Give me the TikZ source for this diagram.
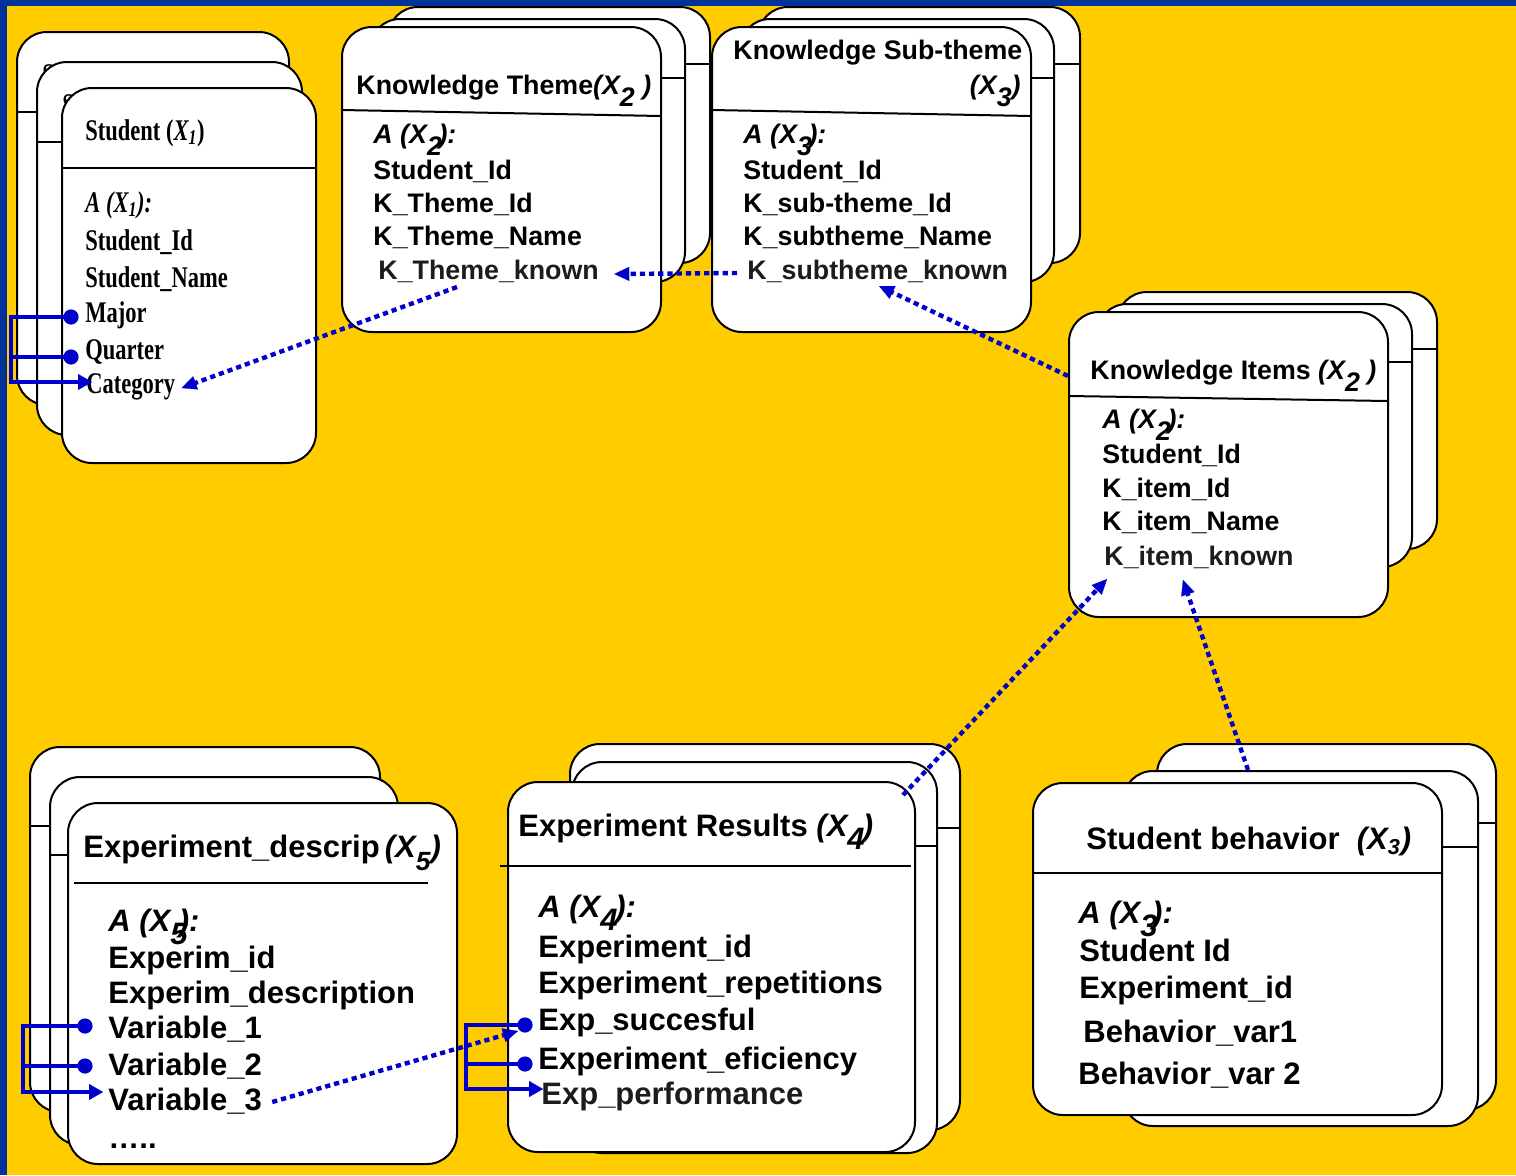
\documentclass[tikz,border=0pt]{standalone}
\usepackage{fontspec}
\usepackage{graphicx}
\setmainfont{Liberation Sans}
\newfontfamily\tnr{Liberation Serif}
\usetikzlibrary{arrows.meta,calc}

\definecolor{bgyellow}{HTML}{FFCC00}
\definecolor{frameblue}{HTML}{003399}
\definecolor{linkblue}{HTML}{0000CC}
\definecolor{softblack}{HTML}{1C1C1C}

% lowered index digit, and a lowered digit tucked under the closing bracket
\newcommand\lowd[1]{\raisebox{-0.45em}{#1}}
\newcommand\tuck[2]{\rlap{\raisebox{-0.45em}{#2}}\kern#1}
% condensed serif used in the Student entity
\newcommand\cond[1]{\scalebox{.75}[1]{#1}}
% one card of an entity stack: left, top, right, bottom, divider y at left, divider y at right
\newcommand\cardbox[6]{%
  \path[card] (#1,#2) rectangle (#3,#4);
  \draw[divider] (#1,#5) -- (#3,#6);}

\tikzset{
  card/.style={draw=black, fill=white, line width=1pt, rounded corners=15pt},
  divider/.style={draw=black, line width=1pt},
  kt/.style={anchor=base west, inner sep=0pt, font=\fontsize{13.4}{16}\selectfont\bfseries},
  et/.style={anchor=base west, inner sep=0pt, font=\fontsize{15.5}{18}\selectfont\bfseries},
  st/.style={anchor=base west, inner sep=0pt, font=\tnr\fontsize{15}{18}\selectfont\bfseries},
  link/.style={draw=linkblue, line width=2.2pt, dash pattern=on 2.6pt off 2pt,
    -{Triangle[length=7.5pt,width=7pt,line width=0.1pt]}},
  bracket/.style={draw=linkblue, line width=2.4pt},
  bracketarrow/.style={bracket, -{Triangle[length=7pt,width=8pt,line width=0.1pt]}},
}

\begin{document}
\begin{tikzpicture}[x=0.5pt,y=-0.5pt]
\useasboundingbox (0,0) rectangle (1516,1175);
\fill[bgyellow] (0,0) rectangle (1516,1175);
\fill[frameblue] (0,0) rectangle (1516,6);
\fill[frameblue] (0,0) rectangle (7,1175);

% ---------------- Student (X1)
\cardbox{17}{32}{289}{405}{112}{112}
\node[st] (s-ghost1) at (42,84) {\cond{Student (\textit{X\textsubscript{1}})}};
\cardbox{37}{62}{302}{435}{142}{142}
\node[st] (s-ghost2) at (62,114) {\cond{Student (\textit{X\textsubscript{1}})}};
\cardbox{62}{88}{316}{463}{168}{168}
\node[st] (s-title) at (85,140) {\cond{Student (\textit{X\textsubscript{1}})}};
\node[st] (s-attr) at (85,212) {\cond{\textit{A (X\textsubscript{1}):}}};
\node[st] (s-id) at (85,250) {\cond{Student\_Id}};
\node[st] (s-name) at (85,287) {\cond{Student\_Name}};
\node[st] (s-major) at (85,322) {\cond{Major}};
\node[st] (s-quarter) at (85,359) {\cond{Quarter}};
\node[st] (s-cat) at (86,393) {\cond{Category}};

% ---------------- Knowledge Theme (X2)
\cardbox{388}{7}{710}{263}{64}{64}
\cardbox{370}{19}{685}{282}{78}{78}
\cardbox{342}{27}{661}{332}{110}{116}
\node[kt] (th-title) at (356,94) {Knowledge Theme{\itshape(X\lowd{2}\ )}};
\node[kt] (th-attr) at (373,143) {\itshape A (X\tuck{.43em}{2}):};
\node[kt] (th-sid) at (373,179) {Student\_Id};
\node[kt] (th-id) at (373,212) {K\_Theme\_Id};
\node[kt] (th-name) at (373,245) {K\_Theme\_Name};
\node[kt, text=softblack] (th-known) at (378,279) {K\_Theme\_known};

% ---------------- Knowledge Sub-theme (X3)
\cardbox{758}{7}{1080}{263}{64}{64}
\cardbox{740}{19}{1054}{282}{78}{78}
\cardbox{712}{27}{1031}{332}{110}{116}
\node[kt] (st-title) at (733,59) {Knowledge Sub-theme};
\node[kt, anchor=base east] (st-index) at (1021,94) {\itshape(X\lowd{3})};
\node[kt] (st-attr) at (743,143) {\itshape A (X\tuck{.43em}{3}):};
\node[kt] (st-sid) at (743,179) {Student\_Id};
\node[kt] (st-id) at (743,212) {K\_sub-theme\_Id};
\node[kt] (st-name) at (743,245) {K\_subtheme\_Name};
\node[kt, text=softblack] (st-known) at (747,279) {K\_subtheme\_known};

% ---------------- Knowledge Items (X2)
\cardbox{1117}{292}{1437}{549}{349}{349}
\cardbox{1097}{304}{1412}{567}{362}{362}
\cardbox{1069}{312}{1388}{617}{396}{401}
\node[kt] (ki-title) at (1090,379) {Knowledge Items {\itshape(X\lowd{2}\ )}};
\node[kt] (ki-attr) at (1102,428) {\itshape A (X\tuck{.43em}{2}):};
\node[kt] (ki-sid) at (1102,463) {Student\_Id};
\node[kt] (ki-id) at (1102,497) {K\_item\_Id};
\node[kt] (ki-name) at (1102,530) {K\_item\_Name};
\node[kt, text=softblack] (ki-known) at (1104,565) {K\_item\_known};

% ---------------- Experiment_descrip (X5)
\cardbox{30}{747}{380}{1112}{826}{826}
\cardbox{50}{777}{398}{1145}{855}{855}
\path[card] (68,803) rectangle (457,1164);
\draw[divider] (74,883) -- (428,883);
\node[et] (ed-title) at (83,857) {Experiment\_descrip\,{\itshape(X\lowd{\scalebox{.85}{5}})}};
\node[et] (ed-attr) at (108,931) {\itshape A (X\tuck{.27em}{5}):};
\node[et] (ed-id) at (108,968) {Experim\_id};
\node[et] (ed-desc) at (108,1003) {Experim\_description};
\node[et] (ed-v1) at (108,1038) {Variable\_1};
\node[et] (ed-v2) at (108,1075) {Variable\_2};
\node[et] (ed-v3) at (108,1110) {Variable\_3};
\node[et] (ed-more) at (108,1148) {…..};

% ---------------- Experiment Results (X4)
\cardbox{570}{744}{960}{1130}{828}{828}
\cardbox{572}{762}{937}{1153}{846}{846}
\path[card] (508,782) rectangle (915,1152);
\draw[divider] (500,866) -- (911,866);
\node[et] (er-title) at (518,836) {Experiment Results {\itshape(X\tuck{.5em}{4})}};
\node[et] (er-attr) at (538,917) {\itshape A (X\tuck{.48em}{4}):};
\node[et] (er-id) at (538,957) {Experiment\_id};
\node[et] (er-rep) at (538,993) {Experiment\_repetitions};
\node[et] (er-succ) at (538,1030) {Exp\_succesful};
\node[et] (er-eff) at (538,1069) {Experiment\_eficiency};
\node[et, text=softblack] (er-perf) at (541,1104) {Exp\_performance};

% ---------------- Student behavior (X3)
\cardbox{1157}{744}{1496}{1110}{823}{823}
\cardbox{1123}{771}{1478}{1126}{847}{847}
\cardbox{1033}{783}{1442}{1115}{873}{873}
\node[et] (sb-title) at (1086,849) {Student behavior\ \ {\itshape(X\textsubscript{3})}};
\node[et] (sb-attr) at (1078,923) {\itshape A (X\tuck{.38em}{3}):};
\node[et] (sb-sid) at (1079,961) {Student Id};
\node[et] (sb-exp) at (1079,998) {Experiment\_id};
\node[et] (sb-v1) at (1083,1042) {Behavior\_var1};
\node[et] (sb-v2) at (1078,1084) {Behavior\_var 2};

% ---------------- link end points
\coordinate (th-out) at ($(th-known.base west)+(79,8)$);
\coordinate (cat-in) at ($(s-cat.base east)+(6,-5)$);
\coordinate (stk-out) at ($(st-known.base west)+(-10,-6)$);
\coordinate (thk-in) at ($(th-known.base east)+(15,-5)$);
\coordinate (ki-out) at (1068,376);
\coordinate (stk-in) at ($(st-known.base west)+(132,7)$);
\coordinate (er-out) at (903,795);
\coordinate (kik-in1) at ($(ki-known.base west)+(3,14)$);
\coordinate (sb-out) at (1248,770);
\coordinate (kik-in2) at ($(ki-known.base west)+(79,15)$);
\coordinate (v3-out) at ($(ed-v3.base east)+(10,-8)$);
\coordinate (succ-in) at ($(er-succ.base west)+(-20,1)$);

% dotted references between attributes
\draw[link] (th-out) -- (cat-in);
\draw[link] (stk-out) -- (thk-in);
\draw[link] (ki-out) -- (stk-in);
\draw[link] (er-out) -- (kik-in1);
\draw[link] (sb-out) -- (kik-in2);
\draw[link] (v3-out) -- (succ-in);

% ---------------- attribute brackets
\coordinate (pin-major) at ($(s-major.base west)+(-14,-5)$);
\coordinate (pin-quarter) at ($(s-quarter.base west)+(-14,-2)$);
\coordinate (tip-cat) at ($(s-cat.base west)+(6,-11)$);
\draw[bracketarrow] (pin-major) -- ++(-60,0) |- (tip-cat);
\draw[bracket] (pin-quarter) -- ++(-60,0);
\fill[linkblue] (pin-major) circle (3.8pt) (pin-quarter) circle (3.8pt);

\coordinate (pin-v1) at ($(ed-v1.base west)+(-23,-12)$);
\coordinate (pin-v2) at ($(ed-v2.base west)+(-23,-9)$);
\coordinate (tip-v3) at ($(ed-v3.base west)+(-5,-18)$);
\draw[bracketarrow] (pin-v1) -- ++(-62,0) |- (tip-v3);
\draw[bracket] (pin-v2) -- ++(-62,0);
\fill[linkblue] (pin-v1) circle (3.8pt) (pin-v2) circle (3.8pt);

\coordinate (pin-succ) at ($(er-succ.base west)+(-13,-5)$);
\coordinate (pin-eff) at ($(er-eff.base west)+(-13,-5)$);
\coordinate (tip-perf) at ($(er-perf.base west)+(2,-15)$);
\draw[bracketarrow] (pin-succ) -- ++(-59,0) |- (tip-perf);
\draw[bracket] (pin-eff) -- ++(-59,0);
\fill[linkblue] (pin-succ) circle (3.8pt) (pin-eff) circle (3.8pt);
\end{tikzpicture}
\end{document}
